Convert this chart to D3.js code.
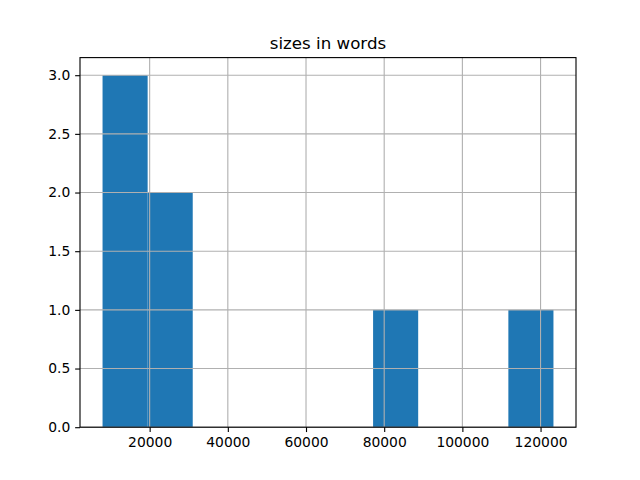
<!DOCTYPE html>
<html>
<head>
<meta charset="utf-8">
<script src="https://cdn.jsdelivr.net/npm/d3@7"></script>
<style>
  body { margin: 0; background: #fff; }
  text { font-family: "DejaVu Sans", sans-serif; fill: #000; }
</style>
</head>
<body>
<script>
//histogram counts per bin
var binCounts = [3, 2, 0, 0, 0, 0, 1, 0, 0, 1];
//smallest and largest word count (outer bin edges)
var sizeMin = 7950,
    sizeMax = 123300;
var xTicks = [20000, 40000, 60000, 80000, 100000, 120000];
var yTicks = [0, 0.5, 1, 1.5, 2, 2.5, 3];
var chartTitle = "sizes in words";

window.onload = drawChart();

function drawChart(){

    var width = 640,
        height = 480;

    //axes box, as matplotlib places it
    var left = 80, right = 576, top = 57.6, bottom = 427.2;
    var pt = 100 / 72;

    var svg = d3.select("body")
        .append("svg")
        .attr("width", width)
        .attr("height", height);

    //bin edges, equal width between min and max
    var step = (sizeMax - sizeMin) / binCounts.length;
    var bins = binCounts.map(function(c, i){
        return { x0: sizeMin + i * step, x1: sizeMin + (i + 1) * step, count: c };
    });

    //5% margins on x, sticky zero on y
    var pad = (sizeMax - sizeMin) * 0.05;
    var x = d3.scaleLinear()
        .domain([sizeMin - pad, sizeMax + pad])
        .range([left, right]);

    var yMax = d3.max(binCounts) * 1.05;
    var y = d3.scaleLinear()
        .domain([0, yMax])
        .range([bottom, top]);

    //bars
    svg.selectAll(".bar")
        .data(bins.filter(function(b){ return b.count > 0; }))
        .enter()
        .append("rect")
        .attr("class", "bar")
        .attr("x", function(d){ return x(d.x0); })
        .attr("y", function(d){ return y(d.count); })
        .attr("width", function(d){ return x(d.x1) - x(d.x0); })
        .attr("height", function(d){ return y(0) - y(d.count); })
        .attr("fill", "#1f77b4");

    //grid lines sit on top of the bars
    svg.append("g")
        .selectAll("line")
        .data(xTicks)
        .enter()
        .append("line")
        .attr("x1", function(d){ return x(d); })
        .attr("x2", function(d){ return x(d); })
        .attr("y1", top)
        .attr("y2", bottom)
        .attr("stroke", "#b0b0b0")
        .attr("stroke-width", 0.8 * pt);

    svg.append("g")
        .selectAll("line")
        .data(yTicks)
        .enter()
        .append("line")
        .attr("x1", left)
        .attr("x2", right)
        .attr("y1", function(d){ return y(d); })
        .attr("y2", function(d){ return y(d); })
        .attr("stroke", "#b0b0b0")
        .attr("stroke-width", 0.8 * pt);

    //x axis
    var xAxis = d3.axisBottom(x)
        .tickValues(xTicks)
        .tickFormat(d3.format("d"))
        .tickSize(3.5 * pt)
        .tickPadding(3.5 * pt);

    var gx = svg.append("g")
        .attr("transform", "translate(0," + bottom + ")")
        .call(xAxis);

    //y axis
    var yAxis = d3.axisLeft(y)
        .tickValues(yTicks)
        .tickFormat(d3.format(".1f"))
        .tickSize(3.5 * pt)
        .tickPadding(3.5 * pt);

    var gy = svg.append("g")
        .attr("transform", "translate(" + left + ",0)")
        .call(yAxis);

    [gx, gy].forEach(function(g){
        g.select(".domain").remove();
        g.selectAll(".tick line").attr("stroke", "#000").attr("stroke-width", 0.8 * pt);
        g.selectAll(".tick text")
            .style("font-size", (10 * pt) + "px")
            .style("font-family", "DejaVu Sans, sans-serif")
            .attr("fill", "#000");
    });

    //frame
    svg.append("rect")
        .attr("x", left)
        .attr("y", top)
        .attr("width", right - left)
        .attr("height", bottom - top)
        .attr("fill", "none")
        .attr("stroke", "#000")
        .attr("stroke-width", 0.8 * pt);

    //title
    svg.append("text")
        .attr("x", (left + right) / 2)
        .attr("y", top - 6 * pt)
        .attr("text-anchor", "middle")
        .style("font-size", (12 * pt) + "px")
        .text(chartTitle);
};
</script>
</body>
</html>
